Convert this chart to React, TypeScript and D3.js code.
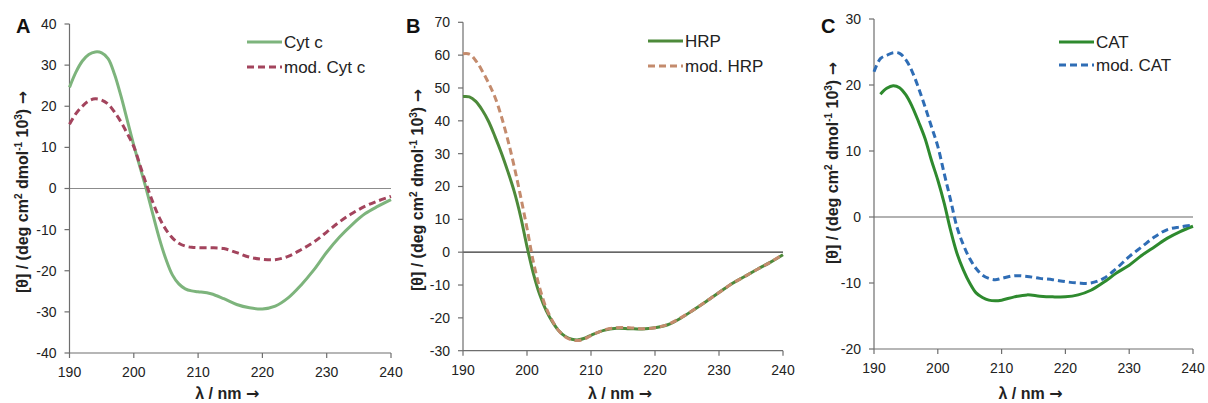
import React from "react";
import * as d3 from "d3";

const FONT = "'Liberation Sans', Arial, sans-serif";
const ARROW_FONT = "'DejaVu Sans', sans-serif";

// wavelength grid (nm)
const wlGrid = [190,191,192,193,194,195,196,197,198,199,200,201,202,203,204,205,206,207,208,209,210,212,214,216,218,220,222,224,226,228,230,232,234,236,238,240];
const wlCat = wlGrid.slice(1);

// Panel A
const cytC = [24.6,28.3,31.0,32.6,33.2,33.0,31.6,27.8,22.5,16.5,10.5,5.0,-0.5,-6.5,-12.3,-17.2,-21,-23.2,-24.4,-24.9,-25.1,-25.6,-26.8,-28.2,-29.0,-29.3,-28.6,-26.6,-23.5,-19.8,-15.5,-11.8,-8.7,-6.1,-4.3,-2.7];
const modCytC = [15.6,18.2,20,21.3,21.8,21.5,20.5,18.6,16.2,13.3,10.2,5.5,0.8,-3.5,-7.2,-10,-12,-13.3,-14,-14.3,-14.4,-14.4,-14.6,-15.6,-16.7,-17.2,-17.3,-16.5,-14.9,-13.0,-10.6,-8.1,-6.0,-4.3,-3.0,-1.9];

// Panel B
const hrp = [47.4,47.3,45.9,43.3,39.8,35.2,30.2,24.6,18.5,10.9,1.7,-6.5,-13,-17.8,-21.3,-24,-25.7,-26.5,-26.7,-26.2,-25.3,-23.8,-23.2,-23.3,-23.4,-23,-22.1,-20.1,-17.6,-15,-12.3,-9.6,-7.4,-5.2,-3.1,-0.8];
const modHrp = [60.4,60.3,58.3,55.2,51.5,47.2,41.3,34.2,26.1,17,7.3,-3,-11,-17,-21,-24,-25.8,-26.7,-26.9,-26.4,-25.4,-23.7,-23,-23,-23.3,-23,-22,-20,-17.6,-15,-12.3,-9.6,-7.4,-5.2,-3.1,-0.6];

// Panel C
const cat = [18.6,19.5,19.9,19.6,18.5,16.7,14.4,11.9,8.6,5.6,2.1,-2,-5.5,-8,-10,-11.5,-12.2,-12.6,-12.7,-12.6,-12.1,-11.8,-12,-12.1,-12.1,-11.8,-11.1,-9.9,-8.5,-7.3,-5.8,-4.5,-3.2,-2.2,-1.4];
const modCat = [22,24,24.5,24.9,24.8,23.8,22,19.5,16.7,13.7,10.7,6.6,2.6,-1.5,-4.2,-6.3,-7.8,-8.8,-9.3,-9.5,-9.3,-8.9,-9,-9.3,-9.5,-9.8,-10,-10,-9.3,-7.8,-6,-4.5,-3,-1.9,-1.5,-1.2];

const xTicks = [190,200,210,220,230,240];

type Series = { name: string; x: number[]; y: number[]; color: string; dashed: boolean };
type Panel = {
  letter: string; x0: number; x1: number; yTop: number; yBot: number;
  yDomain: [number, number]; zeroColor: string; series: Series[];
  legX: number; legY: number[]; ylabCenter: number; ylabX: number; letterX: number;
};

const panels: Panel[] = [
  {
    letter: "A", x0: 69.5, x1: 391, yTop: 24, yBot: 353, yDomain: [-40, 40], zeroColor: "#8c8c8c",
    series: [
      { name: "Cyt c", x: wlGrid, y: cytC, color: "#7db47c", dashed: false },
      { name: "mod. Cyt c", x: wlGrid, y: modCytC, color: "#a3445d", dashed: true },
    ],
    legX: 247, legY: [42, 67], ylabCenter: 192, ylabX: 22, letterX: 16,
  },
  {
    letter: "B", x0: 463, x1: 783, yTop: 22.3, yBot: 350.7, yDomain: [-30, 70], zeroColor: "#333333",
    series: [
      { name: "HRP", x: wlGrid, y: hrp, color: "#4d8a3a", dashed: false },
      { name: "mod. HRP", x: wlGrid, y: modHrp, color: "#c48b6d", dashed: true },
    ],
    legX: 648, legY: [41, 66], ylabCenter: 190, ylabX: 417, letterX: 406,
  },
  {
    letter: "C", x0: 874, x1: 1193, yTop: 19, yBot: 349, yDomain: [-20, 30], zeroColor: "#666666",
    series: [
      { name: "CAT", x: wlCat, y: cat, color: "#2e8a2e", dashed: false },
      { name: "mod. CAT", x: wlGrid, y: modCat, color: "#2f6db5", dashed: true },
    ],
    legX: 1059, legY: [42, 65], ylabCenter: 163, ylabX: 832, letterX: 821,
  },
];

function PanelView({ p }: { p: Panel }) {
  const xs = d3.scaleLinear().domain([190, 240]).range([p.x0, p.x1]);
  const ys = d3.scaleLinear().domain(p.yDomain).range([p.yBot, p.yTop]);
  const yTicks = d3.range(p.yDomain[0], p.yDomain[1] + 1, 10);
  const line = d3.line<[number, number]>().x((d) => xs(d[0])).y((d) => ys(d[1])).curve(d3.curveCatmullRom.alpha(0.5));
  const axisColor = "#6e6e6e";
  return (
    <g>
      <line x1={p.x0} x2={p.x1} y1={ys(0)} y2={ys(0)} stroke={p.zeroColor} strokeWidth={1.2} />
      <line x1={p.x0} x2={p.x0} y1={p.yTop} y2={p.yBot} stroke={axisColor} strokeWidth={1.2} />
      <line x1={p.x0} x2={p.x1} y1={p.yBot} y2={p.yBot} stroke={axisColor} strokeWidth={1.2} />
      {yTicks.map((t) => (
        <g key={"y" + t}>
          <line x1={p.x0 - 5} x2={p.x0} y1={ys(t)} y2={ys(t)} stroke={axisColor} strokeWidth={1.2} />
          <text x={p.x0 - 13} y={ys(t)} dy="0.35em" textAnchor="end" fontSize={14} fill="#222" fontFamily={FONT}>{t}</text>
        </g>
      ))}
      {xTicks.map((t) => (
        <g key={"x" + t}>
          <line x1={xs(t)} x2={xs(t)} y1={p.yBot} y2={p.yBot + 5} stroke={axisColor} strokeWidth={1.2} />
          <text x={xs(t)} y={p.yBot + 24} textAnchor="middle" fontSize={14} fill="#222" fontFamily={FONT}>{t}</text>
        </g>
      ))}
      {p.series.map((s) => (
        <path key={s.name} d={line(s.x.map((x, i) => [x, s.y[i]] as [number, number])) || ""}
          fill="none" stroke={s.color} strokeWidth={3} strokeDasharray={s.dashed ? "7 4" : undefined} />
      ))}
      {p.series.map((s, i) => (
        <g key={"leg" + s.name}>
          <line x1={p.legX} x2={p.legX + 35} y1={p.legY[i]} y2={p.legY[i]} stroke={s.color} strokeWidth={3}
            strokeDasharray={s.dashed ? "7 4" : undefined} />
          <text x={p.legX + 37} y={p.legY[i]} dy="0.36em" fontSize={17} fill="#222" fontFamily={FONT}>{s.name}</text>
        </g>
      ))}
      <text x={p.letterX} y={33} fontSize={20} fontWeight="bold" fill="#111" fontFamily={FONT}>{p.letter}</text>
      <text x={(p.x0 + p.x1) / 2 - 3} y={399} textAnchor="middle" fontSize={16} fontWeight="bold" fill="#222" fontFamily={FONT}>
        <tspan>λ / nm </tspan>
        <tspan fontFamily={ARROW_FONT} fontSize={16}>→</tspan>
      </text>
      <text transform={`translate(${p.ylabX},${p.ylabCenter}) rotate(-90)`} textAnchor="middle" dy="0.35em"
        fontSize={16} fontWeight="bold" fill="#222" fontFamily={FONT}>
        <tspan>[θ] / (deg cm</tspan>
        <tspan fontSize={10} dy={-6}>2</tspan>
        <tspan dy={6}> dmol</tspan>
        <tspan fontSize={10} dy={-6}>-1</tspan>
        <tspan dy={6}> 10</tspan>
        <tspan fontSize={10} dy={-6}>3</tspan>
        <tspan dy={6}>) </tspan>
        <tspan fontFamily={ARROW_FONT} fontSize={16}>→</tspan>
      </text>
    </g>
  );
}

export default function App() {
  return (
    <svg width={1208} height={403} style={{ position: "absolute", left: 0, top: 0, background: "#fff" }}>
      <rect width={1208} height={403} fill="#fff" />
      {panels.map((p) => <PanelView key={p.letter} p={p} />)}
    </svg>
  );
}
